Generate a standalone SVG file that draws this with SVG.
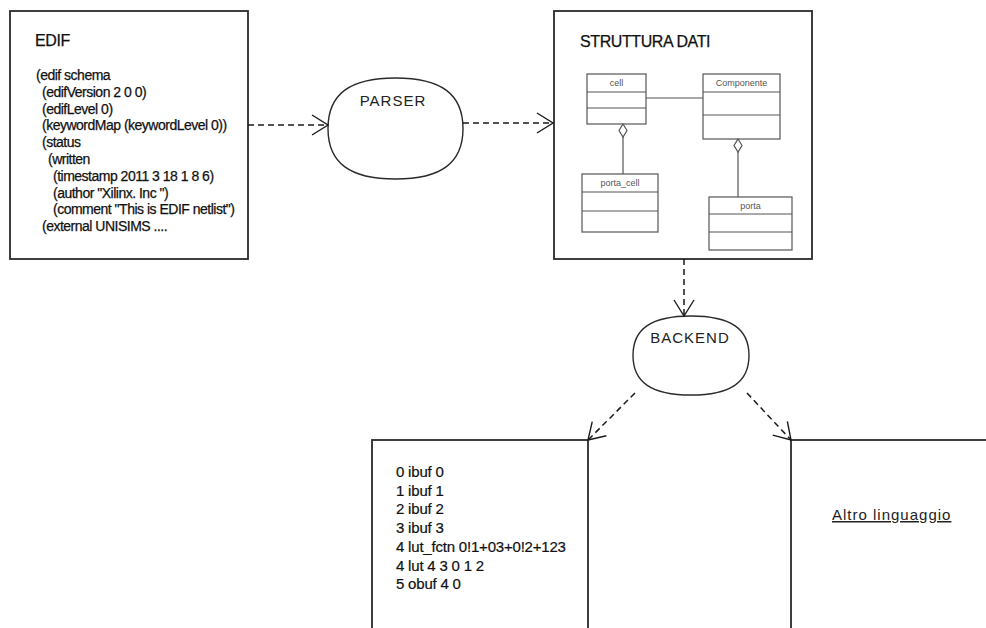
<svg xmlns="http://www.w3.org/2000/svg" width="986" height="628" viewBox="0 0 986 628">
  <style>
    .box { fill: #fff; stroke: #2a2a2a; stroke-width: 1.8; }
    .blob { fill: #fff; stroke: #2a2a2a; stroke-width: 1.4; }
    .uml { fill: #fff; stroke: #555; stroke-width: 1.2; }
    .umlline { stroke: #555; stroke-width: 1.2; fill: none; }
    .title { font-family: "Liberation Sans", Arial, sans-serif; font-size: 16px; fill: #111; letter-spacing: -0.4px; stroke: #111; stroke-width: 0.25px; }
    .code { font-family: "Liberation Sans", Arial, sans-serif; font-size: 14px; fill: #111; letter-spacing: -0.5px; stroke: #111; stroke-width: 0.25px; }
    .list { font-family: "Liberation Sans", Arial, sans-serif; font-size: 15px; fill: #111; letter-spacing: -0.2px; stroke: #111; stroke-width: 0.2px; }
    .label { font-family: "Liberation Sans", Arial, sans-serif; font-size: 15px; fill: #222; letter-spacing: 1px; }
    .umltext { font-family: "Liberation Sans", Arial, sans-serif; font-size: 9px; fill: #555; text-anchor: middle; }
    .flow { stroke: #1a1a1a; stroke-width: 1.5; stroke-dasharray: 6 4; fill: none; }
  </style>
  <defs>
    <marker id="open" markerUnits="userSpaceOnUse" markerWidth="20" markerHeight="24" viewBox="-18 -12 20 24" refX="0" refY="0" orient="auto">
      <path d="M-16,-10 L0,0 L-16,10" fill="none" stroke="#1a1a1a" stroke-width="1.4"/>
    </marker>
  </defs>

  <rect width="986" height="628" fill="#fff"/>

  <!-- EDIF input listing -->
  <g id="edif">
    <rect class="box" x="10" y="11" width="238" height="248"/>
    <text class="title" x="35" y="46">EDIF</text>
    <text class="code">
      <tspan x="36" y="80">(edif schema</tspan>
      <tspan x="42" y="96.8">(edifVersion 2 0 0)</tspan>
      <tspan x="42" y="113.6">(edifLevel 0)</tspan>
      <tspan x="42" y="130.4">(keywordMap  (keywordLevel 0))</tspan>
      <tspan x="42" y="147.2">(status</tspan>
      <tspan x="48" y="164">(written</tspan>
      <tspan x="53" y="180.8">(timestamp 2011 3 18 1 8 6)</tspan>
      <tspan x="53" y="197.6">(author "Xilinx. Inc ")</tspan>
      <tspan x="53" y="214.4">(comment "This is EDIF netlist")</tspan>
      <tspan x="42" y="231.2">(external UNISIMS ....</tspan>
    </text>
  </g>

  <!-- parser stage -->
  <g id="parser">
    <path class="blob" d="M395.5,78 C441.4,78 463,94.2 463,128.5 C463,162.8 441.4,179 395.5,179 C349.6,179 328,162.8 328,128.5 C328,94.2 349.6,78 395.5,78 Z"/>
    <text class="label" x="393" y="106" text-anchor="middle">PARSER</text>
  </g>

  <!-- data structure with its class diagram -->
  <g id="struttura">
    <rect class="box" x="554" y="11" width="258" height="248"/>
    <text class="title" x="580" y="47">STRUTTURA DATI</text>

    <g id="cls-cell">
      <rect class="uml" x="587" y="74" width="59" height="50"/>
      <line class="umlline" x1="587" y1="92" x2="646" y2="92"/>
      <line class="umlline" x1="587" y1="108" x2="646" y2="108"/>
      <text class="umltext" x="616.5" y="86">cell</text>
    </g>
    <g id="cls-componente">
      <rect class="uml" x="703" y="74" width="77" height="65"/>
      <line class="umlline" x1="703" y1="92" x2="780" y2="92"/>
      <line class="umlline" x1="703" y1="115" x2="780" y2="115"/>
      <text class="umltext" x="741.5" y="86">Componente</text>
    </g>
    <g id="cls-porta-cell">
      <rect class="uml" x="582" y="174" width="76" height="58"/>
      <line class="umlline" x1="582" y1="192" x2="658" y2="192"/>
      <line class="umlline" x1="582" y1="211" x2="658" y2="211"/>
      <text class="umltext" x="620" y="186">porta_cell</text>
    </g>
    <g id="cls-porta">
      <rect class="uml" x="709" y="197" width="83" height="53"/>
      <line class="umlline" x1="709" y1="214" x2="792" y2="214"/>
      <line class="umlline" x1="709" y1="232" x2="792" y2="232"/>
      <text class="umltext" x="750.5" y="209">porta</text>
    </g>
    <g id="uml-links">
      <line class="umlline" x1="646" y1="98" x2="703" y2="98"/>
      <path class="uml" d="M623,124 L627,130.5 L623,137 L619,130.5 Z"/>
      <line class="umlline" x1="623" y1="137" x2="623" y2="174"/>
      <path class="uml" d="M738,139 L742,145.5 L738,152 L734,145.5 Z"/>
      <line class="umlline" x1="738" y1="152" x2="738" y2="197"/>
    </g>
  </g>

  <!-- backend stage -->
  <g id="backend">
    <path class="blob" d="M691,316 C730.4,316 749,328.6 749,355.5 C749,382.4 730.4,395 691,395 C651.6,395 633,382.4 633,355.5 C633,328.6 651.6,316 691,316 Z"/>
    <text class="label" x="690" y="343" text-anchor="middle">BACKEND</text>
  </g>

  <!-- generated netlist output -->
  <g id="output-netlist">
    <rect class="box" x="372" y="440" width="216" height="260"/>
    <text class="list">
      <tspan x="396" y="477">0 ibuf 0</tspan>
      <tspan x="396" y="495.7">1 ibuf 1</tspan>
      <tspan x="396" y="514.4">2 ibuf 2</tspan>
      <tspan x="396" y="533.1">3 ibuf 3</tspan>
      <tspan x="396" y="551.8">4 lut_fctn 0!1+03+0!2+123</tspan>
      <tspan x="396" y="570.5">4 lut 4 3 0 1 2</tspan>
      <tspan x="396" y="589.2">5 obuf 4 0</tspan>
    </text>
  </g>

  <!-- alternative target language -->
  <g id="output-altro">
    <rect class="box" x="791" y="440" width="260" height="260"/>
    <text class="label" x="832" y="520" letter-spacing="1.1" text-decoration="underline">Altro linguaggio</text>
  </g>

  <!-- connectors -->
  <g id="connectors">
    <line class="flow" x1="248" y1="125" x2="328" y2="125" marker-end="url(#open)"/>
    <line class="flow" x1="463" y1="123" x2="553" y2="123" marker-end="url(#open)"/>
    <line class="flow" x1="684" y1="259" x2="684" y2="316" marker-end="url(#open)"/>
    <line class="flow" x1="635" y1="393" x2="588" y2="440" marker-end="url(#open)"/>
    <line class="flow" x1="747" y1="393" x2="791" y2="440" marker-end="url(#open)"/>
  </g>
</svg>
